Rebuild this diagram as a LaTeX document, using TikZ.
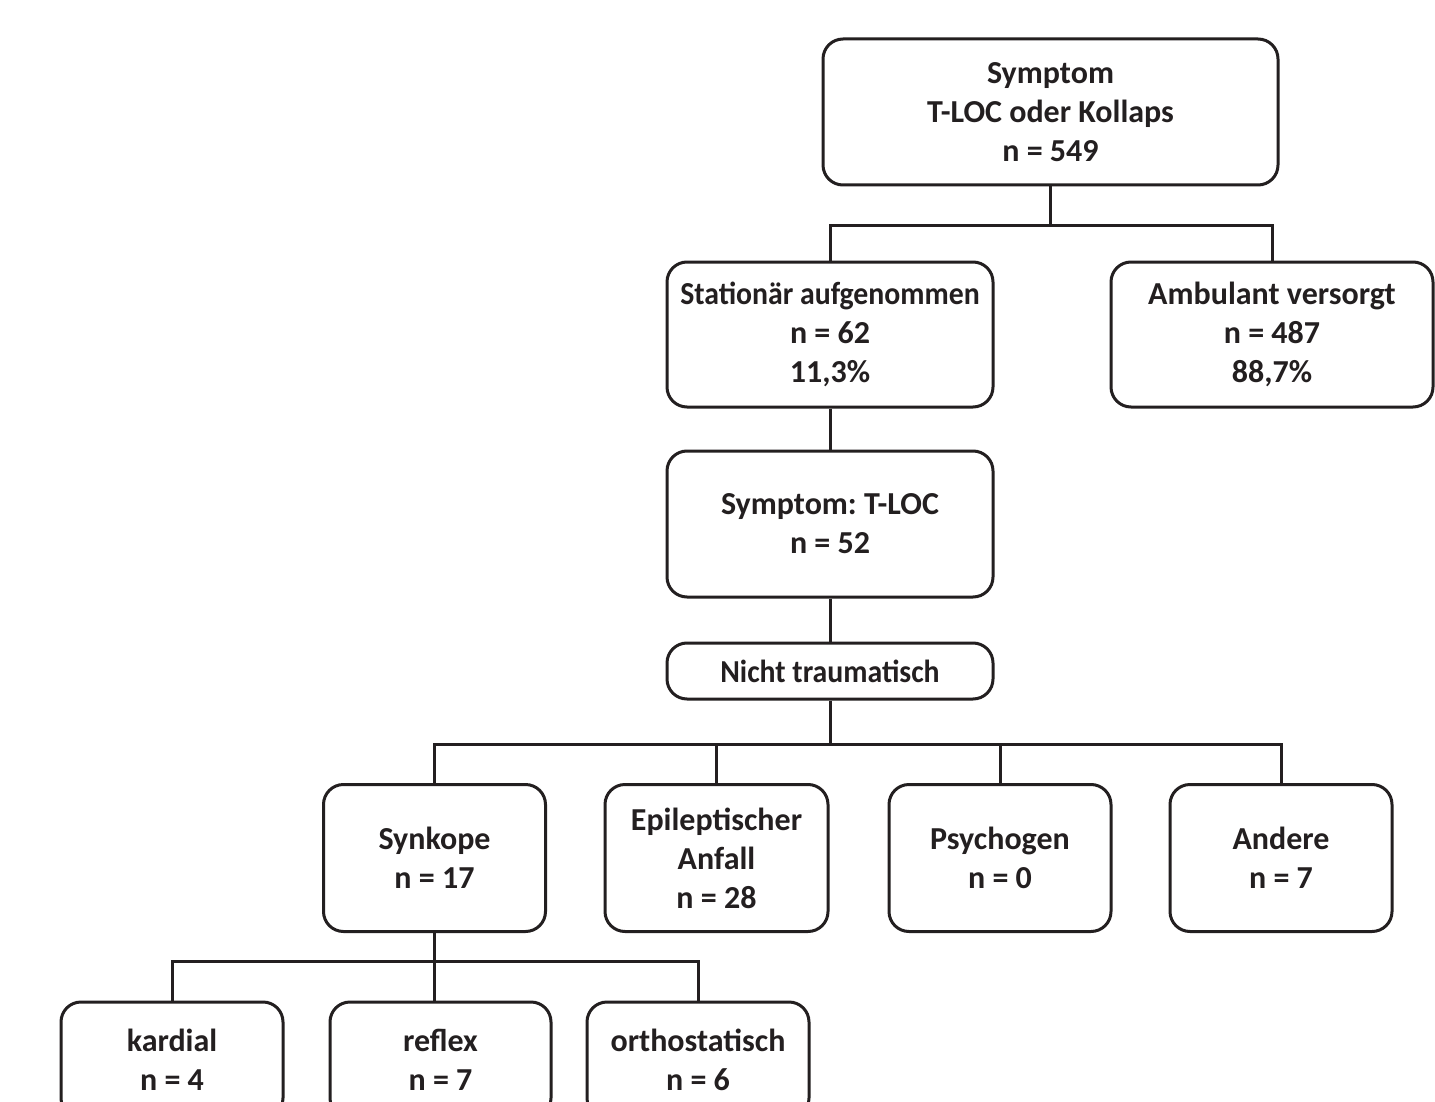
\documentclass[tikz,border=0pt]{standalone}
\usepackage{fontspec}
\setmainfont{Carlito}
\frenchspacing
\definecolor{ink}{RGB}{35,31,32}
\newcommand{\narrowtxt}[1]{{\addfontfeature{FakeStretch=0.93}#1}}
\begin{document}
\begin{tikzpicture}[x=1pt,y=-1pt,
  box/.style={draw=ink, text=ink, line width=3pt, rounded corners=20pt, align=center,
    inner sep=0pt, font=\fontsize{32}{39}\selectfont\bfseries\frenchspacing},
  conn/.style={draw=ink, line width=3pt}]
\useasboundingbox (0,0) rectangle (1435,1102);
\fill[white] (0,0) rectangle (1435,1102);
\clip (0,0) rectangle (1435,1102);
\node[box, minimum width=455pt, minimum height=146pt] (top) at (1050.5,112) {Symptom\\T-LOC oder Kollaps\\n = 549};
\node[box, minimum width=326pt, minimum height=145pt] (stat) at (830,334.5) {\narrowtxt{Stationär aufgenommen}\\n = 62\\11,3\%};
\node[box, minimum width=322pt, minimum height=145pt] (amb) at (1272,334.5) {Ambulant versorgt\\n = 487\\88,7\%};
\node[box, minimum width=326pt, minimum height=146pt] (sym) at (830,524) {Symptom: T-LOC\\n = 52};
\node[box, minimum width=326pt, minimum height=56pt] (nicht) at (830,671) {\narrowtxt{Nicht traumatisch}};
\node[box, minimum width=222pt, minimum height=147pt] (syn) at (434.5,858) {Synkope\\n = 17};
\node[box, minimum width=223pt, minimum height=147pt] (epi) at (716.5,858) {Epileptischer\\Anfall\\n = 28};
\node[box, minimum width=222pt, minimum height=147pt] (psy) at (1000,858) {Psychogen\\n = 0};
\node[box, minimum width=222pt, minimum height=147pt] (and) at (1281,858) {Andere\\n = 7};
\node[box, minimum width=222pt, minimum height=116pt] (kar) at (172,1060) {kardial\\n = 4};
\node[box, minimum width=221pt, minimum height=116pt] (ref) at (440.5,1060) {reflex\\n = 7};
\node[box, minimum width=222pt, minimum height=116pt] (ort) at (698,1060) {orthostatisch\\n = 6};
\coordinate (j1) at (1050.5,226);
\coordinate (j2) at (830,744);
\coordinate (j3) at (434.5,961);
\draw[conn] (top.south) -- (j1);
\draw[conn] (stat.north) |- (j1) -| (amb.north);
\draw[conn] (stat.south) -- (sym.north);
\draw[conn] (sym.south) -- (nicht.north);
\draw[conn] (nicht.south) -- (j2);
\draw[conn] (syn.north) |- (j2) -| (and.north);
\draw[conn] (epi.north) -- (epi.north |- j2);
\draw[conn] (psy.north) -- (psy.north |- j2);
\draw[conn] (syn.south) -- (syn.south |- ref.north);
\draw[conn] (kar.north) |- (j3) -| (ort.north);
\end{tikzpicture}
\end{document}
